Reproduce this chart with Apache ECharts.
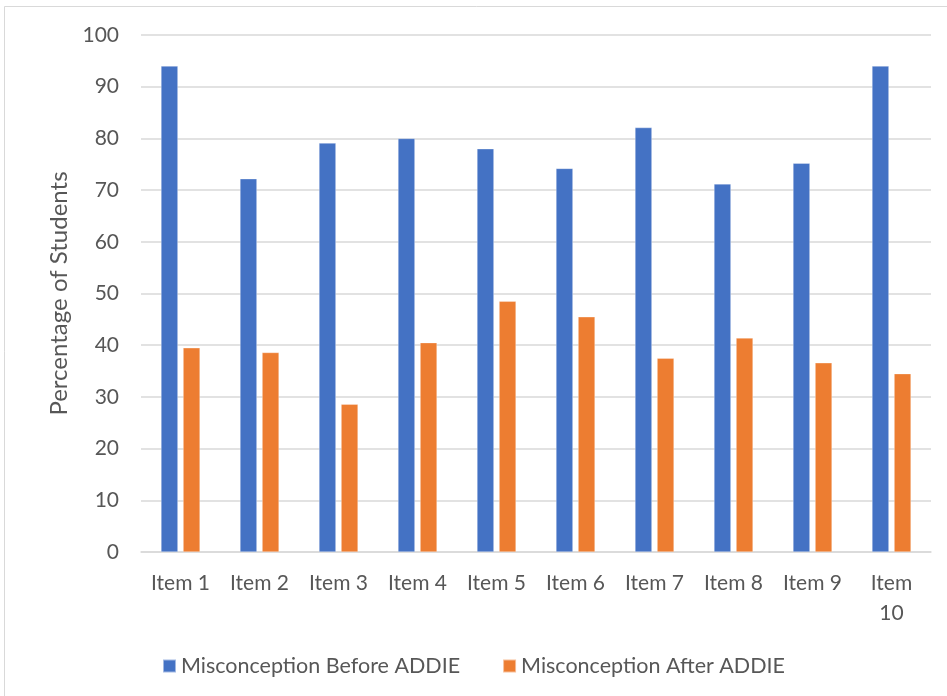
<!DOCTYPE html>
<html>
<head>
<meta charset="utf-8">
<script src="https://cdn.jsdelivr.net/npm/echarts@6/dist/echarts.min.js"></script>
<style>
  html, body { margin: 0; padding: 0; background: #fff; }
  #chart { width: 947px; height: 696px; }
</style>
</head>
<body>
<div id="chart"></div>
<script>
// Survey items and the share of students holding each misconception
const categories = ['Item 1', 'Item 2', 'Item 3', 'Item 4', 'Item 5', 'Item 6', 'Item 7', 'Item 8', 'Item 9', 'Item 10'];
const beforeAddie = [94.0, 72.2, 79.1, 80.0, 78.0, 74.2, 82.1, 71.2, 75.2, 94.0];
const afterAddie = [39.5, 38.6, 28.6, 40.5, 48.5, 45.5, 37.5, 41.4, 36.6, 34.5];
const seriesNames = ['Misconception Before ADDIE', 'Misconception After ADDIE'];
const yTitle = 'Percentage of Students';

const textColor = '#575757';
const font = 'Lato, "Open Sans", sans-serif';

const chart = echarts.init(document.getElementById('chart'), null, { renderer: 'canvas' });

chart.setOption({
  backgroundColor: '#ffffff',
  animation: false,
  textStyle: { fontFamily: font, color: textColor },
  graphic: [{
    type: 'rect',
    shape: { x: 4.5, y: 6.5, width: 1200, height: 1200 },
    style: { fill: 'none', stroke: '#d9d9d9', lineWidth: 1 },
    silent: true
  }],
  grid: { left: 141, right: 16, top: 35, bottom: 144 },
  legend: {
    bottom: 14,
    left: 'center',
    itemWidth: 13,
    itemHeight: 13,
    itemGap: 42,
    icon: 'rect',
    textStyle: { fontFamily: font, fontSize: 21.5, color: textColor },
    data: seriesNames
  },
  xAxis: {
    type: 'category',
    data: categories,
    axisLine: { show: true, lineStyle: { color: '#d9d9d9', width: 1.5 } },
    axisTick: { show: false },
    axisLabel: {
      margin: 16,
      fontFamily: font,
      fontSize: 21,
      lineHeight: 30,
      color: textColor,
      interval: 0,
      // long labels wrap onto a second line, as they do in narrow category slots
      formatter: v => v.length > 6 ? v.replace(' ', '\n') : v
    }
  },
  yAxis: {
    type: 'value',
    min: 0,
    max: 100,
    interval: 10,
    name: yTitle,
    nameLocation: 'middle',
    nameRotate: 90,
    nameGap: 68,
    nameTextStyle: { fontFamily: font, fontSize: 24, color: textColor },
    axisLine: { show: false },
    axisTick: { show: false },
    axisLabel: { margin: 22, fontFamily: font, fontSize: 21, color: textColor },
    splitLine: { lineStyle: { color: '#d9d9d9', width: 1.5 } }
  },
  series: [
    {
      name: seriesNames[0],
      type: 'bar',
      data: beforeAddie,
      barWidth: 17,
      barGap: '30%',
      itemStyle: { color: '#4472c4', borderColor: 'rgba(255,255,255,0.5)', borderWidth: 0.6 }
    },
    {
      name: seriesNames[1],
      type: 'bar',
      data: afterAddie,
      barWidth: 17,
      barGap: '30%',
      itemStyle: { color: '#ed7d31', borderColor: 'rgba(255,255,255,0.5)', borderWidth: 0.6 }
    }
  ]
});
</script>
</body>
</html>
